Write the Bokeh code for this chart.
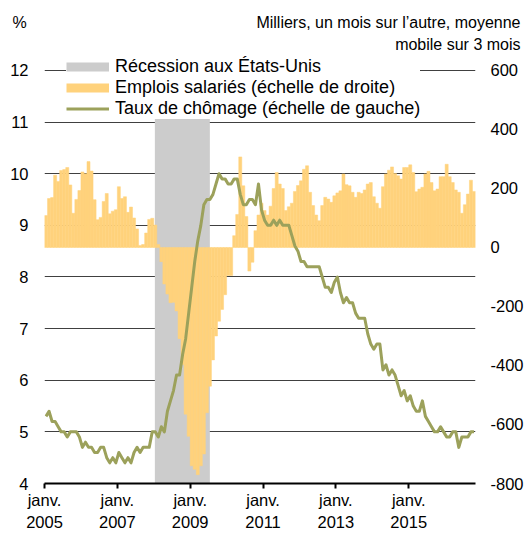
import numpy as np
import pandas as pd
from bokeh.plotting import figure
from bokeh.layouts import column
from bokeh.models import Range1d, LinearAxis, FixedTicker, Legend, LegendItem
from bokeh.core.properties import value
from bokeh.embed import file_html
from bokeh.resources import INLINE

# ---------------- data ----------------
start_month = "2005-01-01"

unemployment = [
    5.3, 5.4, 5.2, 5.2, 5.1, 5.0, 5.0, 4.9, 5.0, 5.0, 5.0, 4.9,   # 2005
    4.7, 4.8, 4.7, 4.7, 4.6, 4.6, 4.7, 4.7, 4.5, 4.4, 4.5, 4.4,   # 2006
    4.6, 4.5, 4.4, 4.5, 4.4, 4.6, 4.7, 4.6, 4.7, 4.7, 4.7, 5.0,   # 2007
    5.0, 4.9, 5.1, 5.0, 5.4, 5.6, 5.8, 6.1, 6.1, 6.5, 6.8, 7.3,   # 2008
    7.8, 8.3, 8.7, 9.0, 9.4, 9.5, 9.5, 9.6, 9.8, 10.0, 9.9, 9.9,  # 2009
    9.8, 9.8, 9.9, 9.9, 9.6, 9.4, 9.4, 9.5, 9.5, 9.4, 9.8, 9.3,   # 2010
    9.1, 9.0, 9.0, 9.1, 9.0, 9.1, 9.0, 9.0, 9.0, 8.8, 8.6, 8.5,   # 2011
    8.3, 8.3, 8.2, 8.2, 8.2, 8.2, 8.2, 8.0, 7.8, 7.8, 7.7, 7.9,   # 2012
    8.0, 7.7, 7.5, 7.6, 7.5, 7.5, 7.3, 7.2, 7.2, 7.2, 6.9, 6.7,   # 2013
    6.6, 6.7, 6.7, 6.2, 6.3, 6.1, 6.2, 6.1, 5.9, 5.7, 5.8, 5.6,   # 2014
    5.7, 5.5, 5.4, 5.4, 5.6, 5.3, 5.2, 5.1, 5.0, 5.0, 5.1, 5.0,   # 2015
    4.9, 4.9, 5.0, 5.0, 4.7, 4.9, 4.9, 4.9, 5.0, 5.0,             # 2016
]

payrolls_3m = [
    108, 166, 169, 245, 224, 261, 264, 271, 212, 116, 163, 193,          # 2005
    256, 250, 291, 259, 162, 94, 102, 156, 183, 114, 123, 128,           # 2006
    206, 166, 172, 119, 137, 100, 63, 7, 10, 49, 95, 99,                 # 2007
    76, 10, -48, -124, -158, -187, -186, -215, -309, -397, -565, -640,   # 2008
    -740, -752, -770, -740, -700, -560, -470, -381, -300, -250, -210, -160,  # 2009
    -95, -95, 40, 112, 307, 209, 105, -80, -50, 57, 110, 150,            # 2010
    125, 110, 140, 200, 254, 215, 200, 125, 138, 150, 190, 210,          # 2011
    226, 265, 277, 187, 142, 110, 91, 142, 170, 164, 153, 175,           # 2012
    185, 192, 249, 213, 209, 187, 170, 187, 183, 195, 215, 220,          # 2013
    172, 150, 133, 206, 249, 262, 273, 251, 243, 232, 271, 271,          # 2014
    280, 254, 189, 198, 204, 249, 258, 220, 192, 198, 240, 240,          # 2015
    282, 240, 220, 195, 187, 116, 145, 181, 228, 190,                    # 2016
]

recession_start = 2008.03   # decimal years
recession_end = 2009.54

x_ticks = [2005, 2007, 2009, 2011, 2013, 2015]
x_tick_labels = ["janv.\n2005", "janv.\n2007", "janv.\n2009",
                 "janv.\n2011", "janv.\n2013", "janv.\n2015"]
left_ticks = [4, 5, 6, 7, 8, 9, 10, 11, 12]
right_ticks = [-800, -600, -400, -200, 0, 200, 400, 600]
right_tick_labels = ["-800", "-600", "-400", "-200", "0", "200", "400", "600"]

legend_labels = ["Récession aux États-Unis",
                 "Emplois salariés (échelle de droite)",
                 "Taux de chômage (échelle de gauche)"]
left_unit = "%"
right_unit = ["Milliers, un mois sur l\u2019autre, moyenne", "mobile sur 3 mois"]

# ---------------- style ----------------
FONT = "Liberation Sans"
TICK_FS = "16.5px"
BAR = "#FFD27C"
LINE = "#9CA15B"
SHADE = "#CCCCCC"
GRID = "#404040"

W = 526
HEAD_H = 53
MAIN_H = 534 - HEAD_H
FRAME_L, FRAME_R, FRAME_B = 44, 51, 50
PX_PER_UNIT = 414.0 / (left_ticks[-1] - left_ticks[0])      # left scale
EXTRA_TOP = 70 - HEAD_H                                    # px above the "12" line
left_top = left_ticks[-1] + EXTRA_TOP / PX_PER_UNIT
right_top = right_ticks[-1] + EXTRA_TOP * (right_ticks[-1] - right_ticks[0]) / 414.0


def no_align(fig):
    try:
        fig.frame_align = False
    except Exception:
        pass


# ---------------- header (unit texts) ----------------
head = figure(width=W, height=HEAD_H, x_range=Range1d(0, W), y_range=Range1d(HEAD_H, 0),
              x_axis_type=None, y_axis_type=None,
              output_backend="svg", toolbar_location=None,
              min_border=0, min_border_left=0, min_border_right=0,
              min_border_top=0, min_border_bottom=0,
              outline_line_color=None, background_fill_color="white",
              border_fill_color="white")
head.title.visible = False
head.grid.visible = False
no_align(head)
head.text(x=[12], y=[22], text=[left_unit], text_align="left", text_baseline="alphabetic",
          text_font=value(FONT), text_font_size="16px", text_color="black")
head.text(x=[520, 520], y=[22, 44], text=right_unit, text_align="right",
          text_baseline="alphabetic", text_font=value(FONT), text_font_size="16px",
          text_color="black")

# ---------------- main chart ----------------
months = pd.date_range(start_month, periods=len(unemployment), freq="MS")
t0 = np.asarray(months.year + (months.month - 1) / 12.0, dtype=float)
t1 = t0 + 1.0 / 12.0
tm = t0 + 1.0 / 24.0

p = figure(width=W, height=MAIN_H,
           x_range=Range1d(t0[0], t1[-1]),
           y_range=Range1d(left_ticks[0], left_top),
           output_backend="svg", toolbar_location=None,
           min_border_left=FRAME_L, min_border_right=FRAME_R,
           min_border_top=0, min_border_bottom=FRAME_B,
           outline_line_color=None,
           background_fill_color="white", border_fill_color="white")
no_align(p)
p.extra_y_ranges = {"right": Range1d(right_ticks[0], right_top)}

# grid
p.xgrid.visible = False
p.ygrid.ticker = FixedTicker(ticks=left_ticks[1:])
p.ygrid.grid_line_color = GRID
p.ygrid.grid_line_width = 1

# bottom axis
xa = p.xaxis[0]
xa.ticker = FixedTicker(ticks=x_ticks)
xa.major_label_overrides = dict(zip(x_ticks, x_tick_labels))
xa.axis_line_color = "black"
xa.axis_line_width = 2
xa.major_tick_line_color = "black"
xa.major_tick_line_width = 2
xa.major_tick_out = 5
xa.major_tick_in = 0
xa.minor_tick_line_color = None
xa.major_label_standoff = 2
xa.major_label_text_font = FONT
xa.major_label_text_font_size = TICK_FS
xa.major_label_text_color = "black"
xa.major_label_text_line_height = 1.25

# left axis
ya = p.yaxis[0]
ya.ticker = FixedTicker(ticks=left_ticks)
ya.axis_line_color = None
ya.major_tick_line_color = None
ya.minor_tick_line_color = None
ya.major_tick_out = 0
ya.major_tick_in = 0
ya.major_label_standoff = 16
ya.major_label_text_font = FONT
ya.major_label_text_font_size = TICK_FS
ya.major_label_text_color = "black"

# right axis
ra = LinearAxis(y_range_name="right", ticker=FixedTicker(ticks=right_ticks))
ra.major_label_overrides = dict(zip(right_ticks, right_tick_labels))
ra.axis_line_color = None
ra.major_tick_line_color = None
ra.minor_tick_line_color = None
ra.major_tick_out = 0
ra.major_tick_in = 0
ra.major_label_standoff = 15
ra.major_label_text_font = FONT
ra.major_label_text_font_size = TICK_FS
ra.major_label_text_color = "black"
p.add_layout(ra, "right")

# recession shading
p.quad(left=[recession_start], right=[recession_end],
       bottom=[left_ticks[0]], top=[left_ticks[-1]],
       fill_color=SHADE, line_color=None)

# payroll bars (right scale)
p.quad(left=t0, right=t1, bottom=0, top=payrolls_3m, y_range_name="right",
       fill_color=BAR, line_color=BAR, line_width=0.5)

# unemployment line (left scale)
p.line(tm, unemployment, line_color=LINE, line_width=3, line_join="round")

# legend proxies (no visible data)
nan2 = [np.nan, np.nan]
xx2 = [t0[0], t0[1]]
r_shade = p.line(x=xx2, y=nan2, line_color=SHADE, line_width=9)
r_bar = p.line(x=xx2, y=nan2, line_color=BAR, line_width=9)
r_line = p.line(x=xx2, y=nan2, line_color=LINE, line_width=3)

legend = Legend(items=[LegendItem(label=legend_labels[0], renderers=[r_shade]),
                       LegendItem(label=legend_labels[1], renderers=[r_bar]),
                       LegendItem(label=legend_labels[2], renderers=[r_line])],
                location=(22, 364))
legend.background_fill_color = "white"
legend.background_fill_alpha = 1.0
legend.border_line_color = None
legend.label_text_font = FONT
legend.label_text_font_size = "18px"
legend.label_text_color = "black"
legend.glyph_width = 43
legend.glyph_height = 21
legend.label_height = 21
legend.spacing = 0
legend.padding = 2
legend.label_standoff = 6
legend.margin = 0
p.add_layout(legend)

layout = column(head, p, spacing=0)
open("out.html", "w").write(file_html(layout, INLINE))
